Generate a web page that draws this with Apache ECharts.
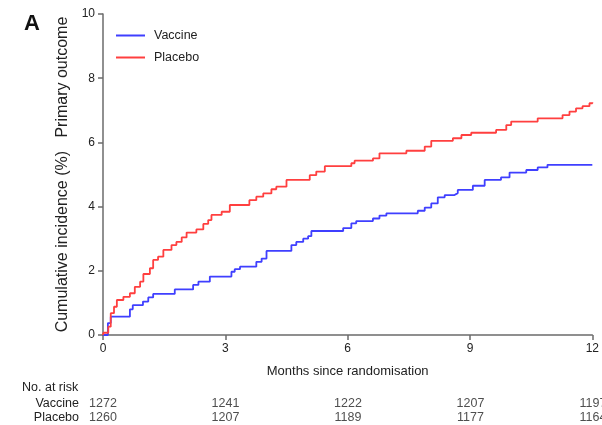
<!DOCTYPE html>
<html>
<head>
<meta charset="utf-8">
<script src="https://cdn.jsdelivr.net/npm/echarts@6/dist/echarts.min.js"></script>
<style>html,body{margin:0;padding:0;background:#fff}#c{width:602px;height:425px}</style>
</head>
<body>
<div id="c"></div>
<script>
var vaccineMonths = [0, 0.12, 0.19, 0.66, 0.73, 0.98, 1.11, 1.23, 1.76, 2.21, 2.34, 2.62, 3.15, 3.23, 3.36, 3.76, 3.89, 4.01, 4.62, 4.74, 4.91, 5.03, 5.11, 5.89, 6.09, 6.21, 6.62, 6.78, 6.95, 7.72, 7.89, 8.05, 8.21, 8.38, 8.62, 8.70, 9.07, 9.36, 9.76, 9.97, 10.38, 10.66, 10.90, 12];
var vaccinePct    = [0, 0.37, 0.57, 0.80, 0.93, 1.04, 1.17, 1.28, 1.42, 1.56, 1.66, 1.82, 1.97, 2.05, 2.13, 2.28, 2.38, 2.62, 2.80, 2.90, 3.00, 3.08, 3.24, 3.33, 3.48, 3.55, 3.63, 3.72, 3.79, 3.87, 3.97, 4.10, 4.29, 4.36, 4.42, 4.52, 4.65, 4.83, 4.91, 5.06, 5.14, 5.22, 5.30, 5.30];
var placeboMonths = [0, 0.01, 0.13, 0.19, 0.27, 0.34, 0.50, 0.66, 0.78, 0.91, 0.99, 1.15, 1.23, 1.35, 1.48, 1.68, 1.80, 1.93, 2.05, 2.29, 2.46, 2.58, 2.66, 2.91, 3.11, 3.59, 3.76, 3.93, 4.13, 4.25, 4.50, 5.07, 5.23, 5.44, 6.09, 6.17, 6.62, 6.78, 7.44, 7.89, 8.05, 8.58, 8.79, 9.03, 9.64, 9.89, 10.01, 10.66, 11.27, 11.44, 11.60, 11.76, 11.93, 12];
var placeboPct    = [0, 0.07, 0.26, 0.68, 0.88, 1.09, 1.19, 1.30, 1.50, 1.66, 1.90, 2.08, 2.34, 2.44, 2.65, 2.80, 2.90, 3.04, 3.19, 3.29, 3.46, 3.58, 3.74, 3.84, 4.05, 4.20, 4.31, 4.41, 4.54, 4.62, 4.83, 4.98, 5.09, 5.26, 5.35, 5.43, 5.50, 5.66, 5.74, 5.87, 6.05, 6.13, 6.23, 6.30, 6.39, 6.54, 6.65, 6.75, 6.85, 6.96, 7.06, 7.13, 7.22, 7.25];
var xTicks = [0, 3, 6, 9, 12];
var riskMonths = [0, 3, 6, 9, 12];
var vaccineRisk = [1272, 1241, 1222, 1207, 1197];
var placeboRisk = [1260, 1207, 1189, 1177, 1164];
var riskGroups = ['Placebo', 'Vaccine'];

function pairs(xs, ys) { return xs.map(function (x, i) { return [x, ys[i]]; }); }
var riskData = [];
riskMonths.forEach(function (m, i) {
  riskData.push([m, 'Vaccine', vaccineRisk[i]]);
  riskData.push([m, 'Placebo', placeboRisk[i]]);
});

var FONT = 'Liberation Sans, Arial, sans-serif';
var axisCol = '#6b6b6b';
var txt = '#222';
var chart = echarts.init(document.getElementById('c'));
chart.setOption({
  animation: false,
  textStyle: { fontFamily: FONT },
  grid: [
    { left: 103, right: 9, top: 14, bottom: 90 },
    { left: 103, right: 9, top: 396, height: 31 }
  ],
  legend: {
    orient: 'vertical', left: 116, top: 29, padding: 0, itemWidth: 29, itemHeight: 2, itemGap: 9,
    icon: 'rect',
    textStyle: { fontFamily: FONT, fontSize: 12.5, color: txt, padding: [0, 0, 0, 4] },
    data: ['Vaccine', 'Placebo']
  },
  xAxis: [
    {
      type: 'value', gridIndex: 0, min: 0, max: 12, interval: 3,
      name: 'Months since randomisation', nameLocation: 'middle', nameGap: 30,
      nameTextStyle: { fontFamily: FONT, fontSize: 13, color: txt },
      axisLine: { show: true, lineStyle: { color: axisCol, width: 1.5 } },
      axisTick: { show: true, length: 5, lineStyle: { color: axisCol, width: 1.5 } },
      axisLabel: { fontFamily: FONT, fontSize: 12, color: txt, margin: 8,
        formatter: function (v) { return xTicks.indexOf(v) >= 0 ? String(v) : ''; } },
      splitLine: { show: false }
    },
    { type: 'value', gridIndex: 1, min: 0, max: 12, show: false }
  ],
  yAxis: [
    {
      type: 'value', gridIndex: 0, min: 0, max: 10, interval: 2,
      name: 'Cumulative incidence (%)   Primary outcome', nameLocation: 'middle', nameGap: 32,
      nameTextStyle: { fontFamily: FONT, fontSize: 16, color: txt },
      axisLine: { show: true, lineStyle: { color: axisCol, width: 1.5 } },
      axisTick: { show: true, length: 5, lineStyle: { color: axisCol, width: 1.5 } },
      axisLabel: { fontFamily: FONT, fontSize: 12, color: txt, margin: 8 },
      splitLine: { show: false }
    },
    {
      type: 'category', gridIndex: 1, data: riskGroups,
      axisLine: { show: false }, axisTick: { show: false },
      axisLabel: { fontFamily: FONT, fontSize: 12.5, color: txt, margin: 24, interval: 0, hideOverlap: false }
    }
  ],
  series: [
    {
      name: 'Vaccine', type: 'line', step: 'end', symbol: 'none', xAxisIndex: 0, yAxisIndex: 0,
      lineStyle: { color: '#3f3fff', width: 1.8 }, itemStyle: { color: '#3f3fff' },
      data: pairs(vaccineMonths, vaccinePct)
    },
    {
      name: 'Placebo', type: 'line', step: 'end', symbol: 'none', xAxisIndex: 0, yAxisIndex: 0,
      lineStyle: { color: '#ff3f3f', width: 1.8 }, itemStyle: { color: '#ff3f3f' },
      data: pairs(placeboMonths, placeboPct)
    },
    {
      type: 'scatter', xAxisIndex: 1, yAxisIndex: 1, symbolSize: 0.01, silent: true,
      clip: false,
      label: { show: true, position: 'inside', fontFamily: FONT, fontSize: 12.5, color: txt,
        formatter: function (p) { return String(p.value[2]); } },
      data: riskData
    }
  ],
  graphic: [
    { type: 'text', left: 24, top: 13, style: { text: 'A', font: 'bold 22px ' + FONT, fill: '#111' } },
    { type: 'text', left: 22, top: 381, style: { text: 'No. at risk', font: '12.5px ' + FONT, fill: txt } }
  ]
});
</script>
</body>
</html>
